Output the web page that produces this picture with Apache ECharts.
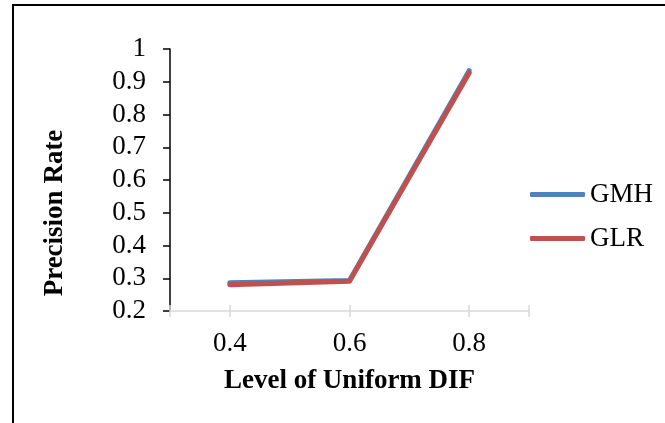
<!DOCTYPE html>
<html>
<head>
<meta charset="utf-8">
<script src="https://cdn.jsdelivr.net/npm/echarts@6/dist/echarts.min.js"></script>
<style>
html,body{margin:0;padding:0;background:#fff;}
#chart{width:665px;height:423px;}
</style>
</head>
<body>
<div id="chart"></div>
<script>
const levels = [0.4, 0.6, 0.8];
const gmh = [0.286, 0.293, 0.934];
const glr = [0.280, 0.291, 0.927];
const xTickValues = [0.3, 0.4, 0.6, 0.8, 0.9];
const yTitle = 'Precision Rate';
const xTitle = 'Level of Uniform DIF';

const font = '"Liberation Serif", "Times New Roman", serif';
const FS = 27;
const chart = echarts.init(document.getElementById('chart'), null, {renderer: 'canvas'});

const pairs = (vals) => levels.map((x, i) => [x, vals[i]]);

chart.setOption({
  animation: false,
  backgroundColor: '#fff',
  textStyle: {fontFamily: font},
  graphic: [{
    type: 'rect',
    shape: {x: 13, y: 5, width: 700, height: 500},
    style: {fill: 'none', stroke: '#000', lineWidth: 2},
    silent: true, z: 100
  }],
  grid: {left: 170, right: 136, top: 49, bottom: 112, containLabel: false},
  legend: {
    orient: 'vertical',
    left: 530, top: 181,
    padding: 0,
    itemWidth: 55, itemHeight: 5,
    itemGap: 17,
    icon: 'roundRect',
    textStyle: {fontFamily: font, fontSize: FS, color: '#000'},
    data: ['GMH', 'GLR']
  },
  xAxis: [{
    type: 'value', min: 0.3, max: 0.9,
    splitLine: {show: false},
    axisLine: {show: true, lineStyle: {color: '#d9d9d9', width: 1.5}},
    axisTick: {show: true, length: 6, customValues: xTickValues, lineStyle: {color: '#d9d9d9', width: 1.5}},
    axisLabel: {customValues: levels, formatter: v => v.toFixed(1), fontFamily: font, fontSize: FS, color: '#000', margin: 19},
    name: xTitle, nameLocation: 'middle', nameGap: 57,
    nameTextStyle: {fontFamily: font, fontSize: FS, fontWeight: 'bold', color: '#000'}
  }, {
    type: 'value', min: 0.3, max: 0.9, position: 'bottom', gridIndex: 0,
    splitLine: {show: false},
    axisLine: {show: false},
    axisTick: {show: true, inside: true, length: 6, customValues: xTickValues, lineStyle: {color: '#d9d9d9', width: 1.5}},
    axisLabel: {show: false}
  }],
  yAxis: {
    type: 'value', min: 0.2, max: 1, interval: 0.1,
    splitLine: {show: false},
    axisLine: {show: true, lineStyle: {color: '#000', width: 1.5}},
    axisTick: {show: true, length: 7, lineStyle: {color: '#000', width: 1.5}},
    axisLabel: {formatter: v => String(+v.toFixed(1)), fontFamily: font, fontSize: FS, color: '#000', margin: 24},
    name: yTitle, nameLocation: 'middle', nameGap: 101,
    nameTextStyle: {fontFamily: font, fontSize: FS, fontWeight: 'bold', color: '#000', padding: [0, 66, 0, 0]}
  },
  series: [{
    name: 'GMH', type: 'line', data: pairs(gmh),
    symbol: 'none', color: '#4F81BD',
    lineStyle: {width: 5, color: '#4F81BD', cap: 'round', join: 'round'}
  }, {
    name: 'GLR', type: 'line', data: pairs(glr),
    symbol: 'none', color: '#C0504D',
    lineStyle: {width: 5, color: '#C0504D', cap: 'round', join: 'round'}
  }]
});
</script>
</body>
</html>
